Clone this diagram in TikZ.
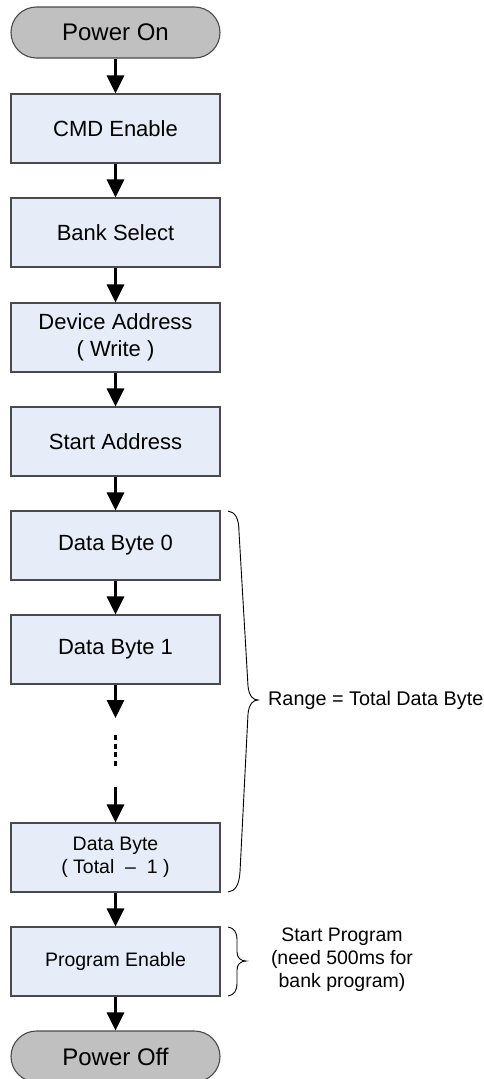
\documentclass[tikz,border=0pt]{standalone}
\usepackage{fontspec}
\setmainfont{Liberation Sans}
\usetikzlibrary{arrows.meta}
\definecolor{boxfill}{HTML}{E7EDF8}
\definecolor{boxline}{HTML}{4A4A4A}
\definecolor{termfill}{HTML}{C0C0C0}
\begin{document}
\begin{tikzpicture}[x=1pt,y=-1pt,
  stepbox/.style={draw=boxline,fill=boxfill,line width=1.1pt,minimum width=209pt,minimum height=69pt,inner sep=0pt,align=center,font=\fontsize{22}{27}\selectfont},
  smallbox/.style={stepbox,font=\fontsize{19.5}{23}\selectfont},
  term/.style={draw=boxline,fill=termfill,line width=1.1pt,rounded corners=25.5pt,minimum width=209pt,minimum height=51pt,inner sep=0pt,font=\fontsize{24}{28}\selectfont},
  arr/.style={line width=3pt,-{Triangle[width=17pt,length=18pt]}},
  brace/.style={line width=0.9pt,black}]
\useasboundingbox (0,0) rectangle (483,1079);
\node[term] (on) at (115.5,32.5) {Power On};
\node[stepbox] (cmd) at (115.5,128.5) {CMD Enable};
\node[stepbox] (bank) at (115.5,232.5) {Bank Select};
\node[stepbox] (dev) at (115.5,337.5) {Device Address\\( Write )};
\node[stepbox] (start) at (115.5,441.5) {Start Address};
\node[stepbox] (db0) at (115.5,545.5) {Data Byte 0};
\node[stepbox] (db1) at (115.5,649.5) {Data Byte 1};
\node[smallbox] (dbt) at (115.5,857.5) {Data Byte\\( Total \ – \ 1 )};
\node[smallbox] (prog) at (115.5,961.5) {Program Enable};
\node[term] (off) at (115.5,1056.5) {Power Off};
\coordinate (a1) at (115.5,718);
\coordinate (d1) at (115.5,735);
\coordinate (d2) at (115.5,766);
\coordinate (a2) at (115.5,787);
\draw[arr] (on.south) -- (cmd.north);
\draw[arr] (cmd.south) -- (bank.north);
\draw[arr] (bank.south) -- (dev.north);
\draw[arr] (dev.south) -- (start.north);
\draw[arr] (start.south) -- (db0.north);
\draw[arr] (db0.south) -- (db1.north);
\draw[arr] (db1.south) -- (a1);
\draw[line width=3pt,dash pattern=on 5pt off 3.7pt] (d1) -- (d2);
\draw[arr] (a2) -- (dbt.north);
\draw[arr] (dbt.south) -- (prog.north);
\draw[arr] (prog.south) -- (off.north);
% braces
\coordinate (b1t) at (228,511);
\coordinate (b1m) at (258,700);
\coordinate (b1b) at (228,892);
\draw[brace] (b1t) .. controls (235,512) and (239,518) .. (239,532) -- (248,686)
  .. controls (249,696) and (253,700) .. (b1m)
  .. controls (253,700) and (249,704) .. (248,714) -- (240,872)
  .. controls (239,886) and (235,891) .. (b1b);
\coordinate (b2t) at (228,927);
\coordinate (b2m) at (246,961);
\coordinate (b2b) at (228,996);
\draw[brace] (b2t) .. controls (234,928) and (237,932) .. (237,940) -- (237,952)
  .. controls (237,958) and (241,961) .. (b2m)
  .. controls (241,961) and (237,964) .. (237,970) -- (237,983)
  .. controls (237,991) and (234,995) .. (b2b);
\node[anchor=west,inner sep=0pt,font=\fontsize{19.8}{23}\selectfont] (range) at (268,700) {Range = Total Data Byte};
\node[align=center,inner sep=0pt,font=\fontsize{19.5}{23}\selectfont] (sp) at (342,960) {Start Program\\(need 500ms for\\bank program)};
\end{tikzpicture}
\end{document}
